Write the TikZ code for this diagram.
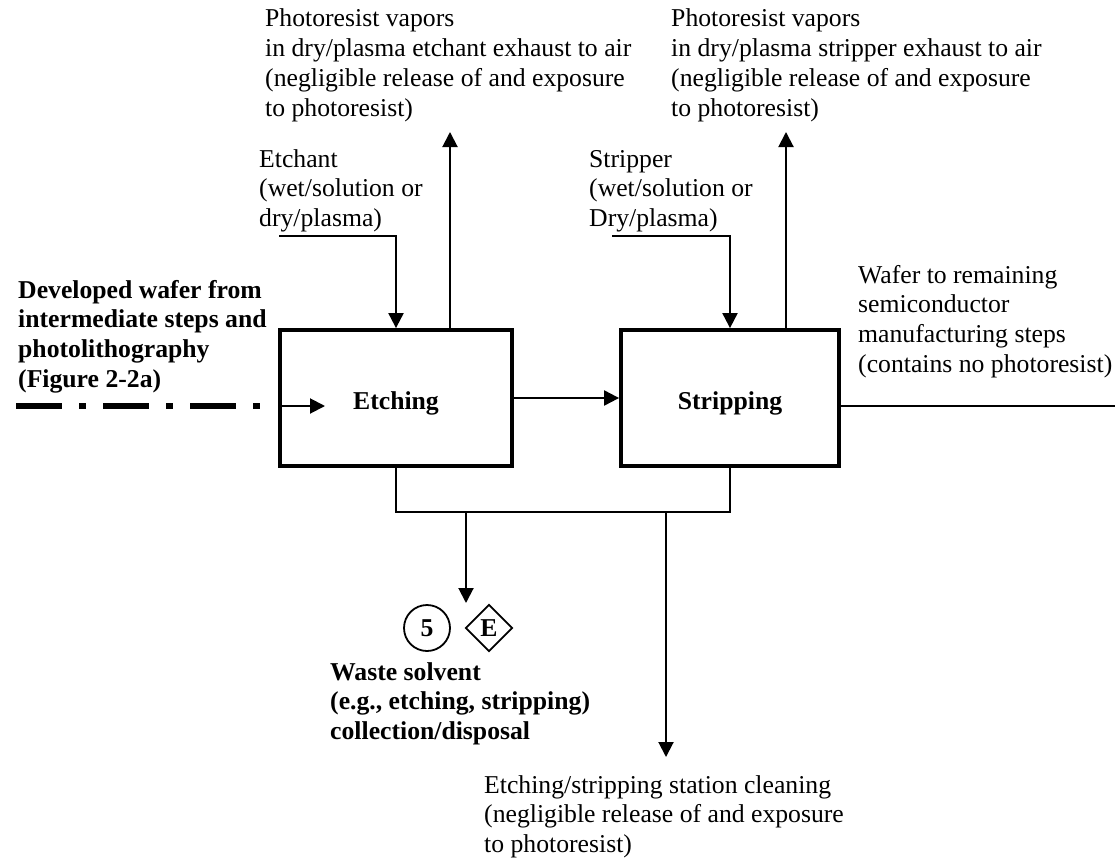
\documentclass[tikz,border=0pt]{standalone}
\usepackage{fontspec}
\setmainfont{Liberation Serif}
\usetikzlibrary{arrows.meta,shapes.geometric}
\newcommand\ml[1]{\begin{tabular}[t]{@{}l@{}}#1\end{tabular}}
\begin{document}
\begin{tikzpicture}[x=1pt,y=-1pt,
  txt/.style={font=\fontsize{25.7pt}{29.8pt}\selectfont, inner sep=0pt, anchor=base west},
  btxt/.style={txt, font=\fontsize{25.7pt}{29.8pt}\selectfont\bfseries},
  procbox/.style={draw, line width=3.8pt, rectangle, font=\fontsize{25.7pt}{29.8pt}\selectfont\bfseries, text height=25pt, text depth=2pt, minimum height=136pt},
  symb/.style={draw, line width=1.8pt, inner sep=0pt, font=\fontsize{25.7pt}{29.8pt}\selectfont\bfseries},
  conn/.style={line width=2pt},
  arr/.style={conn, -{Triangle[length=15pt,width=15pt]}},
  dashdotline/.style={line width=6.5pt, dash pattern=on 46pt off 17pt on 7pt off 17pt},
]
\useasboundingbox (0,0) rectangle (1115,859);

% labels
\node[txt] (vapE) at (265,27) {\ml{Photoresist vapors\\in dry/plasma etchant exhaust to air\\(negligible release of and exposure\\to photoresist)}};
\node[txt] (vapS) at (671,27) {\ml{Photoresist vapors\\in dry/plasma stripper exhaust to air\\(negligible release of and exposure\\to photoresist)}};
\node[txt] (etchant) at (259,167) {\ml{Etchant\\(wet/solution or\\dry/plasma)}};
\node[txt] (stripper) at (589,167) {\ml{Stripper\\(wet/solution or\\Dry/plasma)}};
\node[btxt] (dev) at (18,298) {\ml{Developed wafer from\\intermediate steps and\\photolithography\\(Figure 2-2a)}};
\node[txt] (wafer) at (858,283) {\ml{Wafer to remaining\\semiconductor\\manufacturing steps\\(contains no photoresist)}};
\node[btxt] (waste) at (330,680) {\ml{Waste solvent\\(e.g., etching, stripping)\\collection/disposal}};
\node[txt] (clean) at (484,793) {\ml{Etching/stripping station cleaning\\(negligible release of and exposure\\to photoresist)}};

% process boxes
\node[procbox, minimum width=232pt] (etch) at (396,398) {Etching};
\node[procbox, minimum width=218pt] (strip) at (730,398) {Stripping};

% symbols
\node[symb, circle, minimum size=46pt] (c5) at (427,628) {5};
\node[symb, diamond, aspect=1, minimum width=47pt, minimum height=47pt] (dE) at (489,628) {E};

% free ends
\coordinate (etIn) at (279,236);
\coordinate (stIn) at (612,236);
\coordinate (exE) at (450,132);
\coordinate (exS) at (786,132);
\coordinate (devStart) at (16,406);
\coordinate (devTip) at (325,406);
\coordinate (outEnd) at (1115,406);
\coordinate (bus) at (396,512);
\coordinate (wasteTop) at (466,512);
\coordinate (wasteTip) at (466,603);
\coordinate (cleanTop) at (666,512);
\coordinate (cleanTip) at (666,757);

% connectors
\draw[arr] (etIn) -| (etch.north);
\draw[arr] (etch.north -| exE) -- (exE);
\draw[arr] (stIn) -| (strip.north);
\draw[arr] (strip.north -| exS) -- (exS);
\draw[arr] (etch.east) -- (strip.west);
\draw[conn] (strip.east |- outEnd) -- (outEnd);
\draw[dashdotline] (devStart) -- ([xshift=-2pt]etch.west |- devStart);
\draw[arr] (etch.west |- devStart) -- (devTip);
\draw[conn] (etch.south) -- (bus) -| (strip.south);
\draw[arr] (wasteTop) -- (wasteTip);
\draw[arr] (cleanTop) -- (cleanTip);
\end{tikzpicture}
\end{document}
